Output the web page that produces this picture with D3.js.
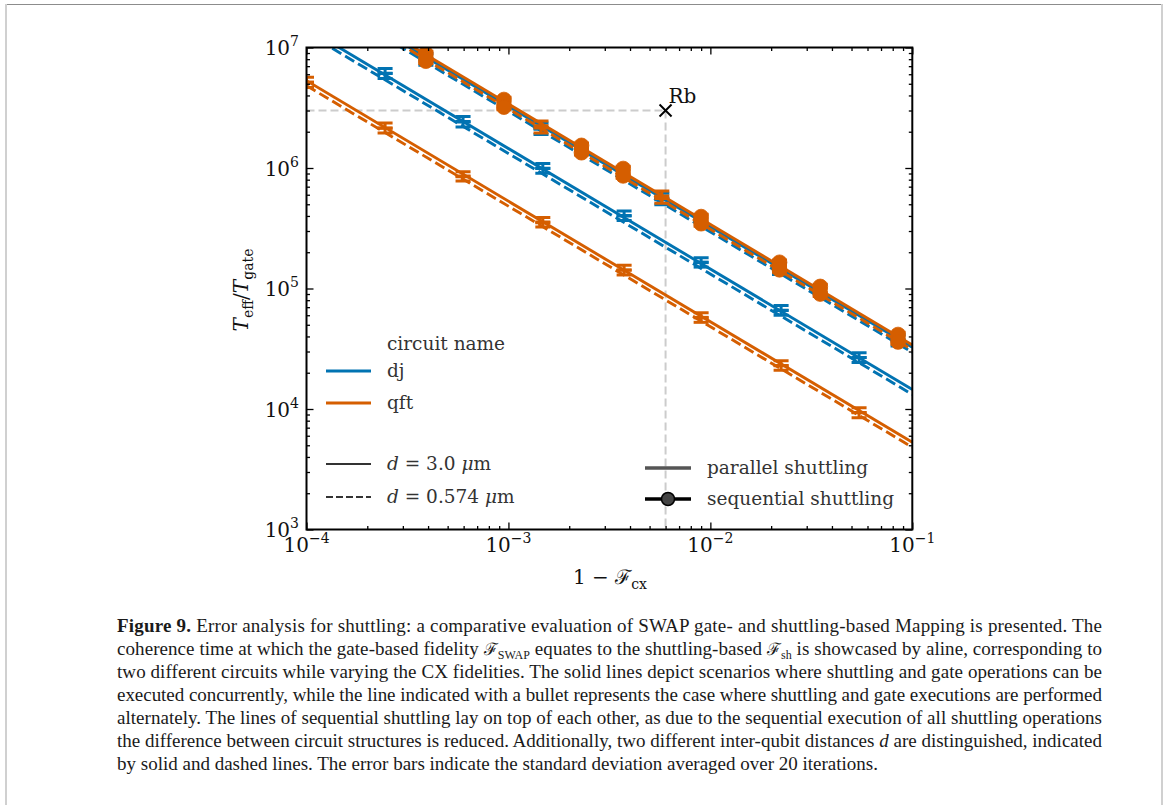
<!DOCTYPE html>
<html>
<head>
<meta charset="utf-8">
<script src="https://cdn.jsdelivr.net/npm/d3@7"></script>
<style>
body { margin: 0; background: #fff; }
svg text { font-family: "DejaVu Serif", serif; }
.cap text { font-family: "Liberation Serif", serif; }
</style>
</head>
<body>
<svg id="fig" width="1165" height="805"></svg>
<script>
// Axis domains
const xDomain = [1e-4, 1e-1]
const yDomain = [1e3, 1e7]
const xMajors = [1e-4, 1e-3, 1e-2, 1e-1]
const yMajors = [1e3, 1e4, 1e5, 1e6, 1e7]
const xTickExp = ['\u22124', '\u22123', '\u22122', '\u22121']
const yTickExp = ['3', '4', '5', '6', '7']

// Straight guide lines (value at 1e-4 and at 1e-1)
const lineX = [1e-4, 1e-1]
const djParSolidLine = [1.45e7, 1.45e4]
const djParDashLine = [1.32e7, 1.32e4]
const qftParSolidLine = [5.3e6, 5.3e3]
const qftParDashLine = [4.82e6, 4.82e3]
const djSeqSolidLine = [3.25e7, 3.25e4]
const djSeqDashLine = [2.95e7, 2.95e4]
const qftSeqSolidLine = [3.4e7, 3.4e4]
const qftSeqDashLine = [3.1e7, 3.1e4]

// Parallel shuttling points
const djParX = [2.45e-4, 5.96e-4, 1.48e-3, 3.74e-3, 9.0e-3, 2.24e-2, 5.45e-2]
const djParSolid = [6.4e6, 2.55e6, 1.04e6, 4.2e5, 1.72e5, 6.9e4, 2.8e4]
const djParSolidErr = [3.0e5, 1.2e5, 5.0e4, 2.0e4, 8.0e3, 3.3e3, 1.3e3]
const djParDash = [5.8e6, 2.3e6, 9.5e5, 3.85e5, 1.58e5, 6.3e4, 2.55e4]
const djParDashErr = [2.8e5, 1.1e5, 4.5e4, 1.8e4, 7.5e3, 3.0e3, 1.2e3]

const qftParX = [1.0e-4, 2.45e-4, 5.96e-4, 1.48e-3, 3.74e-3, 9.0e-3, 2.24e-2, 5.45e-2]
const qftParSolid = [5.4e6, 2.25e6, 8.9e5, 3.7e5, 1.49e5, 6.0e4, 2.4e4, 9.8e3]
const qftParSolidErr = [2.6e5, 1.1e5, 4.2e4, 1.8e4, 7.0e3, 2.9e3, 1.1e3, 4.6e2]
const qftParDash = [4.9e6, 2.05e6, 8.2e5, 3.4e5, 1.36e5, 5.5e4, 2.2e4, 8.9e3]
const qftParDashErr = [2.4e5, 1.0e5, 3.9e4, 1.6e4, 6.5e3, 2.6e3, 1.0e3, 4.2e2]

// Sequential shuttling points
const djSeqX = [3.9e-4, 1.45e-3, 5.75e-3, 2.2e-2, 8.5e-2]
const djSeqSolid = [8.5e6, 2.25e6, 5.9e5, 1.55e5, 3.95e4]
const djSeqSolidErr = [4.0e5, 1.1e5, 2.8e4, 7.0e3, 1.8e3]
const djSeqDash = [7.5e6, 2.0e6, 5.2e5, 1.37e5, 3.5e4]
const djSeqDashErr = [3.6e5, 1.0e5, 2.5e4, 6.5e3, 1.6e3]

const qftSeqX = [3.9e-4, 9.5e-4, 1.45e-3, 2.3e-3, 3.7e-3, 5.75e-3, 9.0e-3, 2.2e-2, 3.5e-2, 8.5e-2]
const qftSeqSolid = [8.9e6, 3.7e6, 2.35e6, 1.54e6, 9.9e5, 6.15e5, 3.95e5, 1.65e5, 1.04e5, 4.15e4]
const qftSeqSolidErr = [4.0e5, 1.7e5, 1.1e5, 7.0e4, 4.5e4, 2.8e4, 1.8e4, 7.5e3, 4.7e3, 1.9e3]
const qftSeqDash = [7.7e6, 3.2e6, 2.05e6, 1.34e6, 8.6e5, 5.35e5, 3.45e5, 1.43e5, 9.0e4, 3.6e4]
const qftSeqDashErr = [3.5e5, 1.5e5, 9.5e4, 6.0e4, 3.9e4, 2.4e4, 1.6e4, 6.5e3, 4.1e3, 1.6e3]
const qftSeqCircle = [1, 1, 0, 1, 1, 0, 1, 1, 1, 1]

// Rubidium reference point
const rbX = [6.0e-3]
const rbY = [3.0e6]

// Legend / captions
const circuitNames = ['dj', 'qft']
const distanceLabels = ['3.0', '0.574']
const modeLabels = ['parallel shuttling', 'sequential shuttling']
const captionLines = [
    [['b', 'Figure 9.'], ['', ' Error analysis for shuttling: a comparative evaluation of SWAP gate- and shuttling-based Mapping is presented. The']],
    [['', 'coherence time at which the gate-based fidelity '], ['f', '\u2131'], ['s', 'SWAP'], ['r', ' equates to the shuttling-based '], ['f', '\u2131'], ['s', 'sh'], ['r', ' is showcased by aline, corresponding to']],
    [['', 'two different circuits while varying the CX fidelities. The solid lines depict scenarios where shuttling and gate operations can be']],
    [['', 'executed concurrently, while the line indicated with a bullet represents the case where shuttling and gate executions are performed']],
    [['', 'alternately. The lines of sequential shuttling lay on top of each other, as due to the sequential execution of all shuttling operations']],
    [['', 'the difference between circuit structures is reduced. Additionally, two different inter-qubit distances '], ['i', 'd'], ['', ' are distinguished, indicated']],
    [['', 'by solid and dashed lines. The error bars indicate the standard deviation averaged over 20 iterations.']]
]

// Colors
const colorDict = { 'dj': '#0173b2', 'qft': '#d55e00' }
const gridGray = '#cccccc'
const textColor = '#111'

// Dimensions
const plotLeft = 306.5
const plotRight = 912.3
const plotTop = 47.5
const plotBottom = 529.5
const majorTick = 7
const minorTick = 3.5
const capHalf = 7.5
const lineW = 2.9
const errW = 3
const dashArr = '10.5,4.5'

const svg = d3.select('#fig')

// Figure frame
svg.append('line').attr('x1', 5).attr('x2', 1162).attr('y1', 4.5).attr('y2', 4.5)
    .attr('stroke', '#8c8c8c').attr('stroke-width', 1)
svg.append('line').attr('x1', 6).attr('x2', 6).attr('y1', 4).attr('y2', 805)
    .attr('stroke', '#d0d0d0').attr('stroke-width', 2)
svg.append('line').attr('x1', 1162).attr('x2', 1162).attr('y1', 4).attr('y2', 805)
    .attr('stroke', '#d0d0d0').attr('stroke-width', 2)

// Scales
const x = d3.scaleLog().domain(xDomain).range([plotLeft, plotRight])
const y = d3.scaleLog().domain(yDomain).range([plotBottom, plotTop])

const isMajor = d => Math.abs(Math.log10(d) - Math.round(Math.log10(d))) < 1e-6
const xMinors = x.ticks().filter(d => !isMajor(d))
const yMinors = y.ticks().filter(d => !isMajor(d))

svg.append('clipPath').attr('id', 'plot-clip')
    .append('rect')
    .attr('x', plotLeft).attr('y', plotTop)
    .attr('width', plotRight - plotLeft).attr('height', plotBottom - plotTop)

const plot = svg.append('g').attr('clip-path', 'url(#plot-clip)')

// Rb guide lines
plot.append('line')
    .attr('x1', x(xDomain[0])).attr('x2', x(rbX[0]))
    .attr('y1', y(rbY[0])).attr('y2', y(rbY[0]))
    .attr('stroke', gridGray).attr('stroke-width', 2).attr('stroke-dasharray', '8,4')
plot.append('line')
    .attr('x1', x(rbX[0])).attr('x2', x(rbX[0]))
    .attr('y1', y(rbY[0])).attr('y2', y(yDomain[0]))
    .attr('stroke', gridGray).attr('stroke-width', 2).attr('stroke-dasharray', '8,4')

const lineGen = d3.line().x(d => x(d[0])).y(d => y(d[1]))

function drawLine(vals, color, dashed) {
    plot.append('path')
        .datum(lineX.map((d, i) => [d, vals[i]]))
        .attr('d', lineGen)
        .attr('fill', 'none')
        .attr('stroke', color)
        .attr('stroke-width', lineW)
        .attr('stroke-dasharray', dashed ? dashArr : null)
}

function drawErr(xs, ys, errs, color) {
    const g = plot.append('g').attr('stroke', color).attr('stroke-width', errW)
    xs.forEach((xv, i) => {
        const cx = x(xv)
        const yHi = y(ys[i] + errs[i])
        const yLo = y(ys[i] - errs[i])
        g.append('line').attr('x1', cx).attr('x2', cx).attr('y1', yHi).attr('y2', yLo)
        g.append('line').attr('x1', cx - capHalf).attr('x2', cx + capHalf).attr('y1', yHi).attr('y2', yHi)
        g.append('line').attr('x1', cx - capHalf).attr('x2', cx + capHalf).attr('y1', yLo).attr('y2', yLo)
    })
}

function drawCircles(xs, ys, flags, color) {
    plot.append('g').selectAll('circle')
        .data(xs.map((d, i) => [d, ys[i], flags[i]]).filter(d => d[2]))
        .join('circle')
        .attr('cx', d => x(d[0])).attr('cy', d => y(d[1]))
        .attr('r', 7.4)
        .attr('fill', color)
        .attr('stroke', color)
        .attr('stroke-width', 0.8)
}

// dj (drawn first, underneath)
drawLine(djParSolidLine, colorDict.dj, false)
drawLine(djParDashLine, colorDict.dj, true)
drawErr(djParX, djParSolid, djParSolidErr, colorDict.dj)
drawErr(djParX, djParDash, djParDashErr, colorDict.dj)
drawLine(djSeqSolidLine, colorDict.dj, false)
drawLine(djSeqDashLine, colorDict.dj, true)
drawErr(djSeqX, djSeqSolid, djSeqSolidErr, colorDict.dj)
drawErr(djSeqX, djSeqDash, djSeqDashErr, colorDict.dj)

// qft
drawLine(qftParSolidLine, colorDict.qft, false)
drawLine(qftParDashLine, colorDict.qft, true)
drawErr(qftParX, qftParSolid, qftParSolidErr, colorDict.qft)
drawErr(qftParX, qftParDash, qftParDashErr, colorDict.qft)
drawLine(qftSeqSolidLine, colorDict.qft, false)
drawLine(qftSeqDashLine, colorDict.qft, true)
drawErr(qftSeqX, qftSeqSolid, qftSeqSolidErr, colorDict.qft)
drawErr(qftSeqX, qftSeqDash, qftSeqDashErr, colorDict.qft)
drawCircles(qftSeqX, qftSeqSolid, qftSeqCircle, colorDict.qft)
drawCircles(qftSeqX, qftSeqDash, qftSeqCircle, colorDict.qft)

// Rb marker
const rbG = svg.append('g').attr('stroke', '#000').attr('stroke-width', 2)
rbX.forEach((xv, i) => {
    const cx = x(xv), cy = y(rbY[i]), s = 6
    rbG.append('line').attr('x1', cx - s).attr('x2', cx + s).attr('y1', cy - s).attr('y2', cy + s)
    rbG.append('line').attr('x1', cx - s).attr('x2', cx + s).attr('y1', cy + s).attr('y2', cy - s)
    svg.append('text').attr('x', cx + 3).attr('y', cy - 8)
        .attr('font-size', 20).attr('fill', '#111').text('Rb')
})

// Ticks (inward on all four sides)
function styleAxis(g) {
    g.select('.domain').remove()
    g.selectAll('line').attr('stroke', '#000').attr('stroke-width', 1.3)
}
svg.append('g').attr('transform', `translate(${plotLeft},0)`)
    .call(d3.axisLeft(y).tickValues(yMajors).tickSize(-majorTick).tickFormat('')).call(styleAxis)
svg.append('g').attr('transform', `translate(${plotLeft},0)`)
    .call(d3.axisLeft(y).tickValues(yMinors).tickSize(-minorTick).tickFormat('')).call(styleAxis)
svg.append('g').attr('transform', `translate(${plotRight},0)`)
    .call(d3.axisRight(y).tickValues(yMajors).tickSize(-majorTick).tickFormat('')).call(styleAxis)
svg.append('g').attr('transform', `translate(${plotRight},0)`)
    .call(d3.axisRight(y).tickValues(yMinors).tickSize(-minorTick).tickFormat('')).call(styleAxis)
svg.append('g').attr('transform', `translate(0,${plotBottom})`)
    .call(d3.axisBottom(x).tickValues(xMajors).tickSize(-majorTick).tickFormat('')).call(styleAxis)
svg.append('g').attr('transform', `translate(0,${plotBottom})`)
    .call(d3.axisBottom(x).tickValues(xMinors).tickSize(-minorTick).tickFormat('')).call(styleAxis)
svg.append('g').attr('transform', `translate(0,${plotTop})`)
    .call(d3.axisTop(x).tickValues(xMajors).tickSize(-majorTick).tickFormat('')).call(styleAxis)
svg.append('g').attr('transform', `translate(0,${plotTop})`)
    .call(d3.axisTop(x).tickValues(xMinors).tickSize(-minorTick).tickFormat('')).call(styleAxis)

svg.append('rect')
    .attr('x', plotLeft).attr('y', plotTop)
    .attr('width', plotRight - plotLeft).attr('height', plotBottom - plotTop)
    .attr('fill', 'none').attr('stroke', '#000').attr('stroke-width', 2)

// Tick labels
yMajors.forEach((d, i) => {
    const t = svg.append('text').attr('x', 299).attr('y', y(d) + 7.5)
        .attr('text-anchor', 'end').attr('font-size', 20).attr('fill', textColor)
    t.append('tspan').text('10')
    t.append('tspan').attr('dy', -9).attr('font-size', 14).text(yTickExp[i])
})
xMajors.forEach((d, i) => {
    const t = svg.append('text').attr('x', x(d)).attr('y', plotBottom + 22.5)
        .attr('text-anchor', 'middle').attr('font-size', 20).attr('fill', textColor)
    t.append('tspan').text('10')
    t.append('tspan').attr('dy', -9).attr('font-size', 14).text(xTickExp[i])
})

// Axis titles
const xt = svg.append('text').attr('x', 610).attr('y', 584)
    .attr('text-anchor', 'middle').attr('font-size', 20).attr('fill', textColor)
xt.append('tspan').text('1 \u2212 ')
xt.append('tspan').text('\u2131')
xt.append('tspan').attr('dy', 5).attr('font-size', 14).text('cx')

const yt = svg.append('text')
    .attr('transform', 'translate(248,290) rotate(-90)')
    .attr('text-anchor', 'middle').attr('font-size', 20).attr('fill', textColor)
yt.append('tspan').attr('font-style', 'italic').text('T')
yt.append('tspan').attr('dy', 5).attr('font-size', 14).text('eff')
yt.append('tspan').attr('dy', -5).text('/')
yt.append('tspan').attr('font-style', 'italic').text('T')
yt.append('tspan').attr('dy', 5).attr('font-size', 14).text('gate')

// Legend: circuit names and distances
const leg = svg.append('g').attr('font-size', 18.5).attr('fill', '#333')
leg.append('text').attr('x', 387).attr('y', 350).text('circuit name')
circuitNames.forEach((c, i) => {
    const ly = 371 + i * 32
    leg.append('line').attr('x1', 326).attr('x2', 371).attr('y1', ly).attr('y2', ly)
        .attr('stroke', colorDict[c]).attr('stroke-width', lineW)
    leg.append('text').attr('x', 387).attr('y', ly + 6).text(c)
})
distanceLabels.forEach((dl, i) => {
    const ly = 464 + i * 33
    leg.append('line').attr('x1', 326).attr('x2', 371).attr('y1', ly).attr('y2', ly)
        .attr('stroke', '#333').attr('stroke-width', 2)
        .attr('stroke-dasharray', i === 1 ? '7,3' : null)
    const t = leg.append('text').attr('x', 387).attr('y', ly + 6)
    t.append('tspan').attr('font-style', 'italic').text('d')
    t.append('tspan').text(' = ' + dl + ' ')
    t.append('tspan').attr('font-style', 'italic').text('\u03bc')
    t.append('tspan').text('m')
})

// Legend: shuttling mode
modeLabels.forEach((m, i) => {
    const ly = 468 + i * 31
    leg.append('line').attr('x1', 645).attr('x2', 691).attr('y1', ly).attr('y2', ly)
        .attr('stroke', i === 0 ? '#555' : '#000').attr('stroke-width', 3.5)
    if (i === 1) {
        leg.append('circle').attr('cx', 668).attr('cy', ly).attr('r', 6.5)
            .attr('fill', '#444').attr('stroke', '#000').attr('stroke-width', 1.5)
    }
    leg.append('text').attr('x', 707).attr('y', ly + 6).text(m)
})

// Caption
const cap = svg.append('g').attr('class', 'cap').attr('font-size', 19).attr('fill', '#1a1a1a')
captionLines.forEach((parts, i) => {
    const t = cap.append('text').attr('x', 117).attr('y', 632 + i * 23)
    if (i < captionLines.length - 1) {
        t.attr('textLength', 985).attr('lengthAdjust', 'spacing')
    }
    parts.forEach(p => {
        const s = t.append('tspan').text(p[1])
        if (p[0] === 'b') s.attr('font-weight', 'bold')
        if (p[0] === 'i') s.attr('font-style', 'italic')
        if (p[0] === 'f') s.attr('font-family', '"DejaVu Serif", serif').attr('font-size', 17)
        if (p[0] === 's') s.attr('font-size', 12).attr('dy', 4)
        if (p[0] === 'r') s.attr('dy', -4)
    })
})
</script>
</body>
</html>
